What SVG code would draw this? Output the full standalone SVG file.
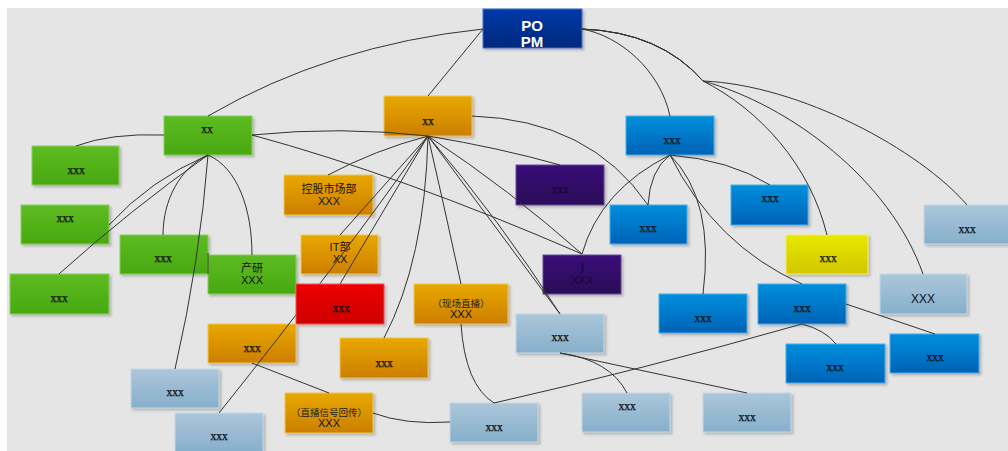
<svg xmlns="http://www.w3.org/2000/svg" width="1008" height="451" viewBox="0 0 1008 451">
<defs>
<linearGradient id="gGreen" x1="0" y1="0" x2="0" y2="1"><stop offset="0" stop-color="#5dbb22"/><stop offset="1" stop-color="#48a810"/></linearGradient>
<linearGradient id="gOrange" x1="0" y1="0" x2="0" y2="1"><stop offset="0" stop-color="#e8a800"/><stop offset="1" stop-color="#cc7e00"/></linearGradient>
<linearGradient id="gBlue" x1="0" y1="0" x2="0" y2="1"><stop offset="0" stop-color="#008edc"/><stop offset="1" stop-color="#0062b6"/></linearGradient>
<linearGradient id="gLight" x1="0" y1="0" x2="0" y2="1"><stop offset="0" stop-color="#abc6da"/><stop offset="1" stop-color="#86afcb"/></linearGradient>
<linearGradient id="gPurple" x1="0" y1="0" x2="0" y2="1"><stop offset="0" stop-color="#3a1078"/><stop offset="1" stop-color="#2a0b58"/></linearGradient>
<linearGradient id="gRed" x1="0" y1="0" x2="0" y2="1"><stop offset="0" stop-color="#ec0000"/><stop offset="1" stop-color="#cf0000"/></linearGradient>
<linearGradient id="gYellow" x1="0" y1="0" x2="0" y2="1"><stop offset="0" stop-color="#e8e800"/><stop offset="1" stop-color="#d2c600"/></linearGradient>
<linearGradient id="gNavy" x1="0" y1="0" x2="0" y2="1"><stop offset="0" stop-color="#0038a8"/><stop offset="1" stop-color="#00287c"/></linearGradient>
<linearGradient id="gTop" x1="0" y1="0" x2="0" y2="1"><stop offset="0" stop-color="#ffffff"/><stop offset="1" stop-color="#e5e5e5"/></linearGradient>
<filter id="sh" x="-10%" y="-10%" width="130%" height="140%"><feDropShadow dx="2" dy="2" stdDeviation="1" flood-color="#888" flood-opacity="0.5"/></filter>
</defs>
<style>
.n rect{filter:url(#sh);stroke-width:1}
.green{fill:url(#gGreen);stroke:#8ad05a}
.orange{fill:url(#gOrange);stroke:#f0c850}
.blue{fill:url(#gBlue);stroke:#40b0ee}
.light{fill:url(#gLight);stroke:#c4d8e6}
.purple{fill:url(#gPurple);stroke:#6a4a9a}
.red{fill:url(#gRed);stroke:#ff5050}
.yellow{fill:url(#gYellow);stroke:#f4f060}
.navy{fill:url(#gNavy);stroke:#4070c8}
text{text-anchor:middle}
.s{font-family:"Liberation Serif",serif;font-size:11.5px;fill:#111;stroke:#111;stroke-width:0.25}
.sd{font-family:"Liberation Serif",serif;font-size:11.5px;fill:#12083a;stroke:#12083a;stroke-width:0.25}
.a{font-family:"Liberation Sans",sans-serif;font-size:11px;fill:#111}
.c{font-family:"Liberation Sans","Noto Sans CJK SC",sans-serif;font-size:11px;fill:#111}
.cs{font-family:"Liberation Sans","Noto Sans CJK SC",sans-serif;font-size:9.5px;fill:#222}
.po{font-family:"Liberation Sans",sans-serif;font-size:15px;font-weight:bold;fill:#fff}
#connectors path{fill:none;stroke:#333;stroke-width:1}
</style>
<rect x="0" y="0" width="1008" height="451" fill="#ffffff"/>
<rect x="7" y="8" width="1001" height="443" fill="#e5e5e5"/>

<g id="nodes-under">
<g id="n-po" class="n"><rect class="navy" x="483" y="9" width="99" height="39"/><text class="po" x="532" y="31">PO</text><text class="po" x="532" y="47">PM</text></g>
<g id="n-green-xx" class="n"><rect class="green" x="164" y="116" width="88" height="39"/><text class="s" x="207" y="133">xx</text></g>
<g id="n-orange-xx" class="n"><rect class="orange" x="384" y="96" width="88" height="40"/><text class="s" x="428" y="125">xx</text></g>
<g id="n-blue-top" class="n"><rect class="blue" x="626" y="116" width="88" height="39"/><text class="s" x="672" y="144">xxx</text></g>
<g id="n-green-1" class="n"><rect class="green" x="32" y="146" width="87" height="39"/><text class="s" x="76" y="174">xxx</text></g>
<g id="n-green-2" class="n"><rect class="green" x="21" y="205" width="88" height="39"/><text class="s" x="65" y="222">xxx</text></g>
<g id="n-green-3" class="n"><rect class="green" x="10" y="274" width="99" height="40"/><text class="s" x="59" y="302">xxx</text></g>
<g id="n-green-mid" class="n"><rect class="green" x="120" y="235" width="88" height="39"/><text class="s" x="163" y="262">xxx</text></g>
<g id="n-chanyan" class="n"><rect class="green" x="208" y="255" width="88" height="39"/><text class="c" x="252" y="272">产研</text><text class="a" x="252" y="284">XXX</text></g>
<g id="n-konggu" class="n"><rect class="orange" x="284" y="175" width="89" height="40"/><text class="c" x="329" y="193">控股市场部</text><text class="a" x="329" y="205">XXX</text></g>
<g id="n-it" class="n"><rect class="orange" x="301" y="235" width="77" height="39"/><text class="c" x="340" y="251">IT部</text><text class="a" x="340" y="263">XX</text></g>
<g id="n-orange-left" class="n"><rect class="orange" x="208" y="324" width="88" height="39"/><text class="s" x="252" y="352">xxx</text></g>
<g id="n-orange-mid" class="n"><rect class="orange" x="340" y="338" width="88" height="40"/><text class="s" x="384" y="367">xxx</text></g>
<g id="n-xianchang" class="n"><rect class="orange" x="414" y="284" width="94" height="40"/><text class="cs" x="461" y="307">（现场直播）</text><text class="a" x="461" y="318">XXX</text></g>
<g id="n-zhibo" class="n"><rect class="orange" x="285" y="393" width="88" height="40"/><text class="cs" x="329" y="416">（直播信号回传）</text><text class="a" x="329" y="427">XXX</text></g>
<g id="n-purple-1" class="n"><rect class="purple" x="516" y="165" width="88" height="40"/><text class="sd" x="560" y="193">xxx</text></g>
<g id="n-purple-2" class="n"><rect class="purple" x="543" y="255" width="78" height="39"/><text class="sd" x="582" y="271">)</text><text class="a" x="582" y="284" style="fill:#12083a">XXX</text></g>
<g id="n-blue-610" class="n"><rect class="blue" x="610" y="205" width="77" height="39"/><text class="s" x="648" y="232">xxx</text></g>
<g id="n-blue-731" class="n"><rect class="blue" x="731" y="185" width="77" height="40"/><text class="s" x="770" y="202">xxx</text></g>
<g id="n-yellow" class="n"><rect class="yellow" x="786" y="235" width="82" height="39"/><text class="s" x="828" y="262">xxx</text></g>
<g id="n-light-924" class="n"><rect class="light" x="924" y="205" width="86" height="39"/><text class="s" x="967" y="233">xxx</text></g>
<g id="n-light-880" class="n"><rect class="light" x="880" y="274" width="87" height="40"/><text class="a" x="923" y="303" style="font-size:12px">XXX</text></g>
<g id="n-blue-659" class="n"><rect class="blue" x="659" y="294" width="88" height="39"/><text class="s" x="703" y="322">xxx</text></g>
<g id="n-blue-758" class="n"><rect class="blue" x="758" y="284" width="88" height="40"/><text class="s" x="802" y="312">xxx</text></g>
<g id="n-blue-786" class="n"><rect class="blue" x="786" y="344" width="99" height="39"/><text class="s" x="835" y="371">xxx</text></g>
<g id="n-blue-890" class="n"><rect class="blue" x="890" y="334" width="89" height="39"/><text class="s" x="935" y="361">xxx</text></g>
<g id="n-light-703" class="n"><rect class="light" x="703" y="393" width="88" height="39"/><text class="s" x="747" y="421">xxx</text></g>
<g id="n-light-582" class="n"><rect class="light" x="582" y="393" width="88" height="39"/><text class="s" x="627" y="410">xxx</text></g>
<g id="n-light-center" class="n"><rect class="light" x="516" y="314" width="88" height="39"/><text class="s" x="560" y="341">xxx</text></g>
<g id="n-light-bc" class="n"><rect class="light" x="450" y="403" width="88" height="39"/><text class="s" x="494" y="431">xxx</text></g>
<g id="n-light-131" class="n"><rect class="light" x="131" y="369" width="88" height="39"/><text class="s" x="175" y="396">xxx</text></g>
<g id="n-light-175" class="n"><rect class="light" x="175" y="413" width="88" height="40"/><text class="s" x="219" y="440">xxx</text></g>
</g>

<g id="connectors">
<path d="M483,29 Q330,45 208,116"/>
<path d="M483,29 L428,96"/>
<path d="M582,29 C620,36 660,70 670,116"/>
<path d="M582,29 Q660,32 703,81 C800,85 920,150 967,205"/>
<path d="M582,29 Q660,32 703,81 C790,105 890,180 923,274"/>
<path d="M582,29 Q660,32 703,81 C760,110 810,165 827,235"/>
<path d="M164,135 Q110,133 76,146"/>
<path d="M208,155 Q150,180 109,225"/>
<path d="M208,155 Q130,210 59,274"/>
<path d="M208,155 C180,168 163,200 163,235"/>
<path d="M208,155 Q200,260 175,369"/>
<path d="M208,155 C238,168 252,210 252,255"/>
<path d="M208,253 L208,274"/>
<path d="M252,135 Q340,126 428,136"/>
<path d="M252,135 Q400,175 582,254"/>
<path d="M428,136 Q375,150 328,175"/>
<path d="M428,136 L340,235"/>
<path d="M428,136 L340,284"/>
<path d="M428,136 Q345,255 219,413"/>
<path d="M428,136 Q425,260 384,338"/>
<path d="M428,136 Q445,210 461,284"/>
<path d="M428,136 Q500,220 560,314"/>
<path d="M428,136 L560,314"/>
<path d="M428,136 Q510,190 582,254"/>
<path d="M428,136 Q500,148 560,165"/>
<path d="M472,116 Q590,120 648,205"/>
<path d="M670,155 Q650,170 648,205"/>
<path d="M670,155 Q730,160 770,185"/>
<path d="M670,155 Q600,190 582,254"/>
<path d="M670,155 Q715,200 703,294"/>
<path d="M670,155 Q715,245 802,284"/>
<path d="M252,363 L329,393"/>
<path d="M373,413 Q405,425 450,422"/>
<path d="M461,324 Q465,385 494,403"/>
<path d="M494,403 Q640,370 802,324"/>
<path d="M560,353 Q610,360 627,393"/>
<path d="M560,353 L747,393"/>
<path d="M802,324 Q825,330 836,344"/>
<path d="M846,304 L935,334"/>
</g>

<g id="n-red" class="n"><rect class="red" x="296" y="284" width="88" height="40"/><text class="s" x="341" y="312">xxx</text></g>
</svg>
